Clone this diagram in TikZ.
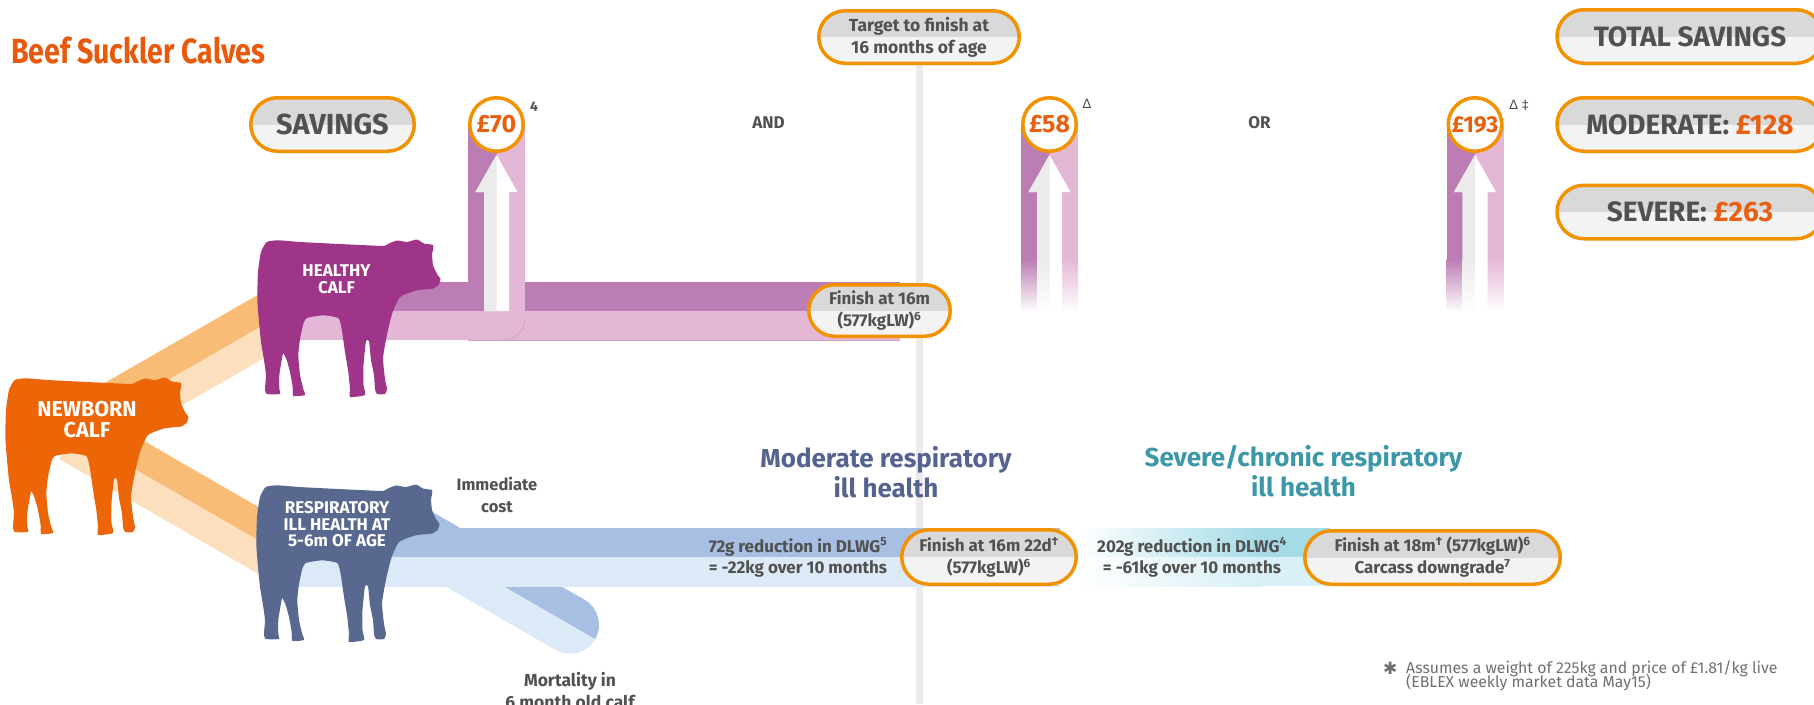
\documentclass[tikz,border=0pt]{standalone}
\usepackage{fontspec}
\setmainfont{Fira Sans}
\newfontfamily\symfont{DejaVu Sans}
\usepackage{graphicx}
\usetikzlibrary{shapes.misc}
\definecolor{orgtitle}{HTML}{E8590C}
\definecolor{orgtext}{HTML}{E8600F}
\definecolor{orgcow}{HTML}{EC6608}
\definecolor{pillbd}{HTML}{F39200}
\definecolor{pilltop}{HTML}{D9D9D9}
\definecolor{pillbot}{HTML}{F3F3F3}
\definecolor{txtgray}{HTML}{515150}
\definecolor{footgray}{HTML}{6F6F6E}
\definecolor{purcow}{HTML}{9E3589}
\definecolor{purdark}{HTML}{BB7DB4}
\definecolor{purlight}{HTML}{E5B7D7}
\definecolor{purline}{HTML}{D4A0C8}
\definecolor{orgdark}{HTML}{F9BC76}
\definecolor{orglight}{HTML}{FCDFBD}
\definecolor{bluecow}{HTML}{58688F}
\definecolor{bluedark}{HTML}{A6BFE2}
\definecolor{bluelight}{HTML}{DCE9F7}
\definecolor{modcol}{HTML}{55638F}
\definecolor{sevcol}{HTML}{3C98A8}
\definecolor{sevdark}{HTML}{A4DBE7}
\definecolor{sevlight}{HTML}{D8F0F7}
\definecolor{vline}{HTML}{EBEBEB}
\definecolor{arrowgray}{HTML}{EBEBEB}
\newcommand\fs[2]{\fontsize{#1}{#2}\selectfont}
\newcommand\solidarrow[1]{%
  \fill[white] (#1,155) -- ({#1+21},192) -- ({#1+12.5},192) -- ({#1+12.5},311) -- ({#1-12.5},311) -- ({#1-12.5},192) -- ({#1-21},192) -- cycle;
  \fill[arrowgray] (#1,155) -- ({#1-21},192) -- ({#1-12.5},192) -- ({#1-12.5},311) -- (#1,311) -- cycle;}
\newcommand\fadearrow[1]{%
  \fill[white] (#1,155) -- ({#1+21},192) -- ({#1+12.5},192) -- ({#1+12.5},312) -- ({#1-12.5},312) -- ({#1-12.5},192) -- ({#1-21},192) -- cycle;
  \fill[arrowgray] (#1,155) -- ({#1-21},192) -- ({#1-12.5},192) -- ({#1-12.5},260) -- (#1,260) -- cycle;
  \shade[top color=arrowgray, bottom color=white] ({#1-12.5},259.5) rectangle (#1,312);}
\newcommand\fadecolumn[1]{%
  \fill[purdark] ({#1-28.5},124.5) rectangle (#1,260);
  \fill[purlight] (#1,124.5) rectangle ({#1+28.5},260);
  \shade[top color=purdark, bottom color=white] ({#1-28.5},259.5) rectangle (#1,312);
  \shade[top color=purlight, bottom color=white] (#1,259.5) rectangle ({#1+28.5},312);}
\tikzset{
  lbl/.style={text=txtgray, font=\bfseries, inner sep=0, align=center},
  pill/.style={rounded rectangle, draw=pillbd, line width=3.5, fill=pillbot, text=txtgray,
    inner sep=0, align=center,
    path picture={\fill[pilltop] (path picture bounding box.north west) rectangle (path picture bounding box.east);}},
  amount/.style={circle, draw=pillbd, line width=3.5, fill=white, minimum size=53.5, inner sep=0,
    text=orgtext, font=\bfseries\fs{25}{25}},
  cowlbl/.style={text=white, font=\bfseries, align=center, inner sep=0},
  calf/.pic={\path[pic actions] plot[smooth cycle, tension=0.3] coordinates {
    (8.7,2) (20,0.3) (42,2) (75,3.7) (109,5.3) (126,6) (131,3.5) (139,0.5) (149,2) (159,-0.5)
    (166,3.5) (175,5) (175,10) (174,14) (175,25) (179,34) (182.5,39) (180.5,45) (175,48.5)
    (165,49.5) (158,50.5) (149,53.5) (142,57) (138.5,63) (134,74) (130,90) (127,105) (125,119)
    (127,139) (129,149) (127,154) (119,154) (117,149) (116,135) (113,120) (111,101) (108,101)
    (105.5,125) (105.5,145) (107,155) (92,157) (92,149) (90.3,132) (87,112) (83.7,89) (80.3,78)
    (65.3,75.3) (48.7,78) (45.3,84) (42,99) (40.3,115) (42,135) (45.3,149) (47,155) (35.3,156)
    (34.7,147) (32,132) (28.7,120) (25.3,113) (23.7,120) (21.3,135) (21.3,149) (22,154) (8.7,154)
    (7,149) (8,135) (6,120) (3,102) (1,82) (-0.7,59) (0,32) (3,12)};}
}
\begin{document}
\begin{tikzpicture}[x=1pt,y=-1pt]
\useasboundingbox (0,0) rectangle (1814,704);
% vertical time line
\fill[vline] (916,62) rectangle (923,704);
% route coordinates
\coordinate (src) at (74,434);
\coordinate (ubend) at (288,311);
\coordinate (uend) at (310,311);
\coordinate (lbend) at (287,557);
\coordinate (lend) at (310,557);
\coordinate (mort0) at (400,526.7);
\coordinate (mort1) at (570,624.8);
% upper orange route
\begin{scope}
  \clip (0,477.2) -- (288,311) -- (320,311) -- (320,200) -- (0,200) -- cycle;
  \draw[orgdark, line width=58] (src) -- (ubend) -- (uend);
\end{scope}
\begin{scope}
  \clip (0,477.2) -- (288,311) -- (320,311) -- (320,600) -- (0,600) -- cycle;
  \draw[orglight, line width=58] (src) -- (ubend) -- (uend);
\end{scope}
% lower orange route
\begin{scope}
  \clip (0,391.4) -- (287,557) -- (320,557) -- (320,300) -- (0,300) -- cycle;
  \draw[orgdark, line width=58] (src) -- (lbend) -- (lend);
\end{scope}
\begin{scope}
  \clip (0,391.4) -- (287,557) -- (320,557) -- (320,700) -- (0,700) -- cycle;
  \draw[orglight, line width=58] (src) -- (lbend) -- (lend);
\end{scope}
% mortality branch
\begin{scope}
  \clip (360,503.6) -- (660,676.7) -- (660,400) -- (360,400) -- cycle;
  \draw[bluedark, line width=58, line cap=round] (mort0) -- (mort1);
\end{scope}
\begin{scope}
  \clip (360,503.6) -- (660,676.7) -- (660,720) -- (360,720) -- cycle;
  \draw[bluelight, line width=58, line cap=round] (mort0) -- (mort1);
\end{scope}
% healthy purple route
\fill[purdark] (296,282) rectangle (900,311);
\fill[purlight] (296,311) rectangle (900,340);
\draw[purline, line width=0.8] (468,340) -- (900,340);
\fill[purdark] (468,124.5) rectangle (496.5,311);
\fill[purlight] (496.5,124.5) rectangle (525,340);
\draw[purline, line width=0.8] (525,318) .. controls (525,331) and (516,340) .. (503,340);
\solidarrow{496.5}
% fading columns
\fadecolumn{1049.5}
\fadearrow{1049.5}
\fadecolumn{1475}
\fadearrow{1475}
% respiratory blue route
\fill[bluedark] (296,528) rectangle (1060,557);
\fill[bluelight] (296,557) rectangle (1060,587);
% severe gradient band
\shade[left color=white, right color=sevdark] (1076,528) rectangle (1262,557);
\fill[sevdark] (1261,528) rectangle (1330,557);
\shade[left color=white, right color=sevlight] (1076,557) rectangle (1262,586);
\fill[sevlight] (1261,557) rectangle (1330,586);
% calves
\pic[fill=orgcow] (newborncow) at (6,378) {calf};
\pic[fill=purcow] (healthycow) at (258,240) {calf};
\pic[fill=bluecow] (respcow) at (257,485) {calf};
\node[cowlbl, font=\bfseries\fs{21.5}{21}] (newborn) at (87,420) {NEWBORN\\CALF};
\node[cowlbl, font=\bfseries\fs{17}{16.5}] (healthy) at (336.5,279) {HEALTHY\\CALF};
\node[cowlbl, font=\bfseries\fs{17}{16.5}] (resp) at (337,524.5) {RESPIRATORY\\ILL HEALTH AT\\5-6m OF AGE};
% title
\node[anchor=base west, text=orgtitle, font=\bfseries\fs{35}{35}, inner sep=0] (title) at (11,63) {\scalebox{0.815}[1]{Beef Suckler Calves}};
% pills
\node[pill, minimum width=163.5, minimum height=53.5, font=\bfseries\fs{29}{29}] (savings) at (332.5,124.5) {SAVINGS};
\node[pill, minimum width=200.5, minimum height=52.5, font=\bfseries\fs{17.5}{22}] (target) at (919,37) {Target to finish at\\16 months of age};
\node[pill, minimum width=266, minimum height=53.5, font=\bfseries\fs{28}{28}] (totalsav) at (1690,36.5) {TOTAL SAVINGS};
\node[pill, minimum width=266, minimum height=53.5, font=\bfseries\fs{28}{28}] (moderate) at (1690,124.5) {MODERATE: \textcolor{orgtext}{£128}};
\node[pill, minimum width=266, minimum height=53.5, font=\bfseries\fs{28}{28}] (severe) at (1690,212) {SEVERE: \textcolor{orgtext}{£263}};
\node[pill, minimum width=141.5, minimum height=51.5, font=\bfseries\fs{17}{22}] (finish16) at (879.5,310.5) {Finish at 16m\\(577kgLW)\textsuperscript{6}};
\node[pill, minimum width=174.5, minimum height=54.5, font=\bfseries\fs{17}{22}] (finishmod) at (989,557) {Finish at 16m 22d\textsuperscript{†}\\(577kgLW)\textsuperscript{6}};
\node[pill, minimum width=255.5, minimum height=53.5, font=\bfseries\fs{17}{22}] (finishsev) at (1432.5,557.5) {Finish at 18m\textsuperscript{†} (577kgLW)\textsuperscript{6}\\Carcass downgrade\textsuperscript{7}};
% amounts
\node[amount] (c70) at (496.5,124.5) {£70};
\node[amount] (c58) at (1049.5,124.5) {£58};
\node[amount, font=\bfseries\fs{23}{23}] (c193) at (1475,124.5) {£193};
\node[lbl, font=\bfseries\fs{14}{14}] (sup70) at (534,107) {4};
\node[text=txtgray, inner sep=0, font=\symfont\fs{13}{13}] (sup58) at (1087,104) {∆};
\node[text=txtgray, inner sep=0, font=\symfont\fs{13}{13}] (sup193) at (1519,105) {∆ ‡};
\node[lbl, font=\bfseries\fs{17}{17}] (andlbl) at (768.5,123) {AND};
\node[lbl, font=\bfseries\fs{17}{17}] (orlbl) at (1259.5,123) {OR};
% section titles
\node[lbl, text=modcol, font=\bfseries\fs{26}{30}] (modtitle) at (886,472) {Moderate respiratory\\ill health};
\node[lbl, text=sevcol, font=\bfseries\fs{26}{30}] (sevtitle) at (1303.5,471.5) {Severe/chronic respiratory\\ill health};
% band texts
\node[lbl, font=\bfseries\fs{17}{21.5}] (modloss) at (798,557.5) {72g reduction in DLWG\textsuperscript{5}\\= -22kg over 10 months};
\node[lbl, font=\bfseries\fs{17}{21.5}] (sevloss) at (1192,557.5) {202g reduction in DLWG\textsuperscript{4}\\= -61kg over 10 months};
\node[lbl, font=\bfseries\fs{16.5}{22}] (immediate) at (497,495) {Immediate\\cost};
\node[lbl, font=\bfseries\fs{17.5}{22}] (mortality) at (570,691) {Mortality in\\6 month old calf};
% footnote
\node[anchor=base west, text=footgray, inner sep=0, font=\symfont\fs{17}{17}] (ast) at (1383,674) {✱};
\node[anchor=base west, text=footgray, inner sep=0, font=\fs{15.8}{15.8}] (foot1) at (1406,673) {Assumes a weight of 225kg and price of £1.81/kg live};
\node[anchor=base west, text=footgray, inner sep=0, font=\fs{15.8}{15.8}] (foot2) at (1406,687.5) {(EBLEX weekly market data May15)};
\end{tikzpicture}
\end{document}
